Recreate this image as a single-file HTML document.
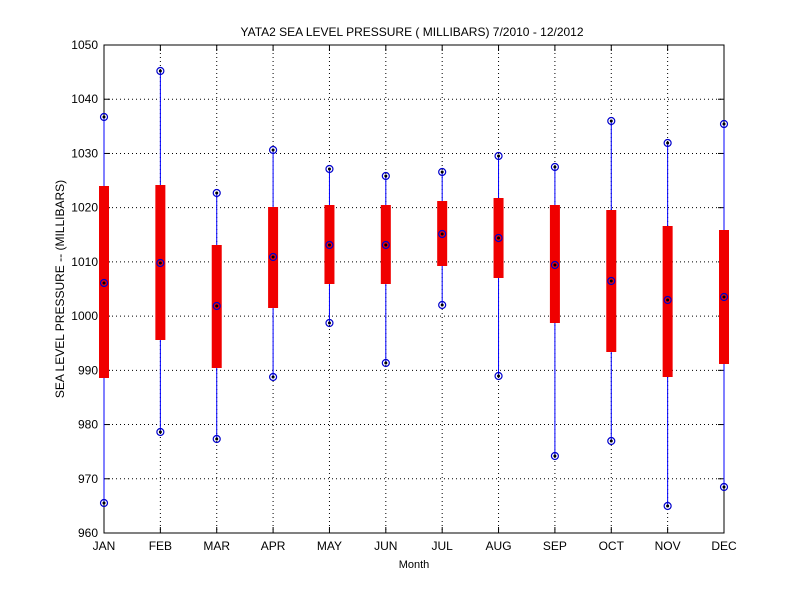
<!DOCTYPE html>
<html><head><meta charset="utf-8"><style>body{margin:0;background:#fff}svg{display:block}text{font-family:"Liberation Sans",sans-serif;font-size:12px}</style></head>
<body>
<svg id="s" width="800" height="600" xmlns="http://www.w3.org/2000/svg">
<rect width="800" height="600" fill="#fff"/>
<g id="grid"></g>
<rect x="104" y="45" width="620" height="488" fill="none" stroke="#000" stroke-width="1"/>
<g id="d"></g>
<text x="412" y="36" text-anchor="middle">YATA2  SEA LEVEL PRESSURE ( MILLIBARS) 7/2010 - 12/2012</text>
<text x="414" y="568" text-anchor="middle" style="font-size:11px">Month</text>
<text transform="translate(64,289) rotate(-90)" text-anchor="middle">SEA LEVEL PRESSURE -- (MILLIBARS)</text>
</svg>
<script>
var NS="http://www.w3.org/2000/svg",g=document.getElementById('grid'),d=document.getElementById('d');
function el(p,tag,a,t){var e=document.createElementNS(NS,tag);for(var k in a)e.setAttribute(k,a[k]);if(t)e.textContent=t;p.appendChild(e);return e;}
var m=["JAN","FEB","MAR","APR","MAY","JUN","JUL","AUG","SEP","OCT","NOV","DEC"];
function X(i){return 104+i*620/11;}
for(var i=0;i<=9;i++){var y=533-i*488/9;
 if(i>0&&i<9)el(g,'line',{x1:104,x2:724,y1:y,y2:y,stroke:'#000','stroke-dasharray':'1,3'});
 el(g,'line',{x1:104,x2:110,y1:y,y2:y,stroke:'#000'});el(g,'line',{x1:718,x2:724,y1:y,y2:y,stroke:'#000'});
 el(g,'text',{x:98,y:y+4,'text-anchor':'end'},960+i*10);}
for(var i=0;i<12;i++){var x=X(i);
 if(i>0&&i<11)el(g,'line',{x1:x,x2:x,y1:45,y2:533,stroke:'#000','stroke-dasharray':'1,3'});
 el(g,'line',{x1:x,x2:x,y1:533,y2:527,stroke:'#000'});el(g,'line',{x1:x,x2:x,y1:45,y2:51,stroke:'#000'});
 el(g,'text',{x:x,y:550,'text-anchor':'middle'},m[i]);}
var D=[[117,186,283,378,503],[71,185,263,340,432],[193,245,306,368,439],[150,207,257,308,377],[169,205,245,284,323],[176,205,245,284,363],[172,201,234,266,305],[156,198,238,278,376],[167,205,265,323,456],[121,210,281,352,441],[143,226,300,377,506],[124,230,297,364,487]];
D.forEach(function(r,i){var x=X(i);
 el(d,'line',{x1:x,x2:x,y1:r[0],y2:r[4],stroke:'#0000ff'});
 el(d,'rect',{x:x-5,y:r[1],width:10,height:r[3]-r[1],fill:'#f00000'});
 [0,2,4].forEach(function(k){el(d,'circle',{cx:x,cy:r[k],r:3.5,fill:'none',stroke:'#0000cc','stroke-width':1.2});el(d,'circle',{cx:x,cy:r[k],r:1.5,fill:'#000'});});
});
</script>
</body></html>
